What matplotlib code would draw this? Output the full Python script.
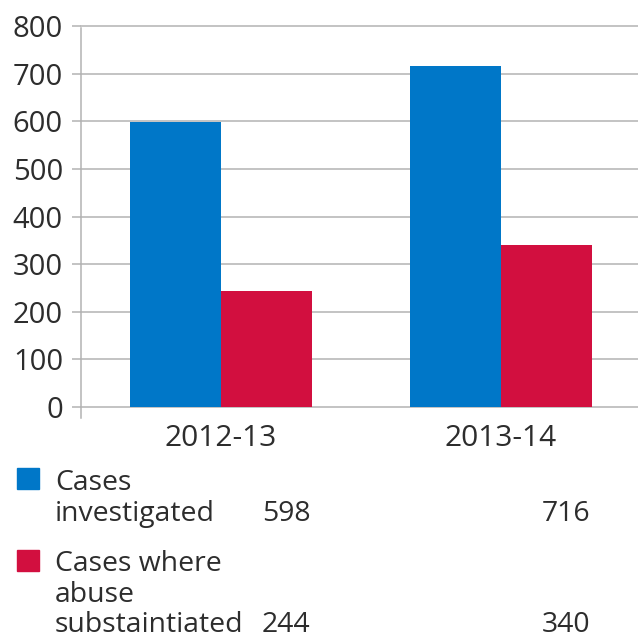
import matplotlib.pyplot as plt
import matplotlib.transforms as mtransforms
from matplotlib.patches import Rectangle
import numpy as np

# data
years = ['2012-13', '2013-14']
investigated = [598, 716]
substantiated = [244, 340]
series_lines = [['Cases', 'investigated'],
                ['Cases where', 'abuse', 'substaintiated']]
y_ticks = [0, 100, 200, 300, 400, 500, 600, 700, 800]

blue = '#0077c8'
red = '#d20f3f'
grid_col = '#b3b3b3'
ink = '#2d2d2d'

plt.rcParams['font.family'] = ['Open Sans', 'DejaVu Sans']

W, H = 638, 640
fig = plt.figure(figsize=(W / 100, H / 100), dpi=100)

# axes placed in pixel terms: y axis at x=81, zero line at y=407, 800 at y=26
ax = fig.add_axes([81 / W, 1 - 407 / H, (W - 81) / W, (407 - 26) / H])

x = np.arange(len(years))
bw = 0.325
ax.bar(x - bw / 2, investigated, bw, color=blue, zorder=3)
ax.bar(x + bw / 2, substantiated, bw, color=red, zorder=3)

ax.set_xlim(-0.5, -0.5 + (W - 81) / 280)
ax.set_ylim(0, 800)
ax.set_yticks(y_ticks)
ax.set_xticks(x, years)

ax.yaxis.grid(True, color=grid_col, lw=1.1)
for gl in ax.get_ygridlines():
    gl.set_clip_on(False)
ax.set_axisbelow(True)
for s in ['top', 'right', 'bottom', 'left']:
    ax.spines[s].set_visible(False)

ax.tick_params(axis='y', length=6.5, width=1.1, color=grid_col,
               labelsize=21, labelcolor=ink, pad=6.5)
ax.tick_params(axis='x', length=0, labelsize=21.5, labelcolor=ink, pad=12)

# vertical axis line, runs a little past the zero line
ax.plot([0, 0], [-11 / 381, 1 - 2 / 381], transform=ax.transAxes,
        color=grid_col, lw=1.1, clip_on=False, zorder=4)

# table below the chart
def fy(py):
    return 1 - py / H

colors = [blue, red]
square_tops = [468, 550]
baselines = [[490, 521], [571, 602, 632]]
values = [investigated, substantiated]

blend = mtransforms.blended_transform_factory(ax.transData, fig.transFigure)
for i in range(2):
    fig.patches.append(Rectangle((17 / W, fy(square_tops[i] + 21)), 22 / W, 21 / H,
                                 transform=fig.transFigure, color=colors[i]))
    for line, by in zip(series_lines[i], baselines[i]):
        fig.text(55 / W, fy(by), line, fontsize=20.4, color=ink, va='baseline', ha='left')
    for j, v in enumerate(values[i]):
        fig.text(x[j] + bw - 0.005, fy(baselines[i][-1]), str(v), transform=blend,
                 fontsize=20.4, color=ink, va='baseline', ha='right')

fig.savefig('out.png', dpi=100)
